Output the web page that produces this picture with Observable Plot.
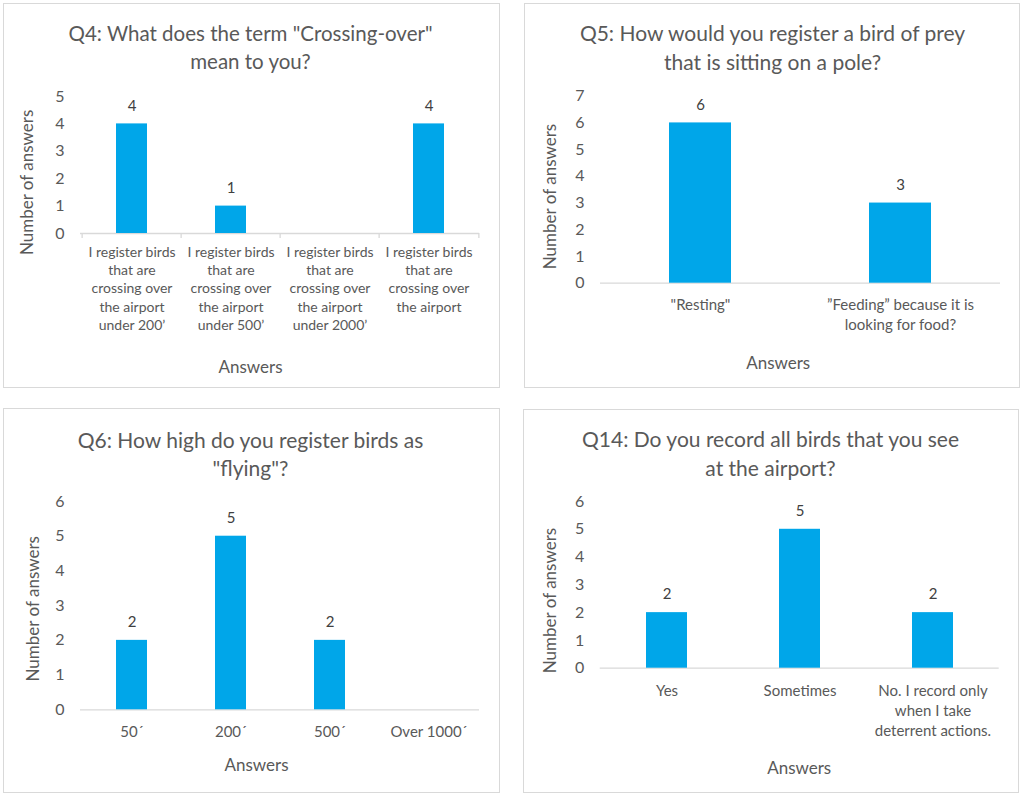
<!DOCTYPE html>
<html>
<head>
<meta charset="utf-8">
<script src="https://cdn.jsdelivr.net/npm/d3@7"></script>
<script src="https://cdn.jsdelivr.net/npm/@observablehq/plot@0.6"></script>
<style>
  html, body { margin: 0; padding: 0; background: #fff; }
  body { width: 1024px; height: 798px; position: relative; overflow: hidden; font-family: Lato, "Open Sans", sans-serif; }
  .panel { position: absolute; border: 1px solid #d9d9d9; background: #fff; }
  .panel svg { display: block; overflow: visible; }
</style>
</head>
<body>
<div id="q4" class="panel"></div>
<div id="q5" class="panel"></div>
<div id="q6" class="panel"></div>
<div id="q14" class="panel"></div>
<script>
// ---------- data ----------
const q4Title = "Q4: What does the term \"Crossing-over\"\nmean to you?";
const q4Categories = [
  "I register birds that are crossing over the airport under 200’",
  "I register birds that are crossing over the airport under 500’",
  "I register birds that are crossing over the airport under 2000’",
  "I register birds that are crossing over the airport"
];
const q4TickLabels = [
  "I register birds\nthat are\ncrossing over\nthe airport\nunder 200’",
  "I register birds\nthat are\ncrossing over\nthe airport\nunder 500’",
  "I register birds\nthat are\ncrossing over\nthe airport\nunder 2000’",
  "I register birds\nthat are\ncrossing over\nthe airport"
];
const q4Values = [4, 1, 0, 4];
const q4YTicks = [0, 1, 2, 3, 4, 5];

const q5Title = "Q5: How would you register a bird of prey\nthat is sitting on a pole?";
const q5Categories = ["\"Resting\"", "”Feeding” because it is looking for food?"];
const q5TickLabels = ["\"Resting\"", "”Feeding” because it is\nlooking for food?"];
const q5Values = [6, 3];
const q5YTicks = [0, 1, 2, 3, 4, 5, 6, 7];

const q6Title = "Q6: How high do you register birds as\n\"flying\"?";
const q6Categories = ["50´", "200´", "500´", "Over 1000´"];
const q6TickLabels = ["50´", "200´", "500´", "Over 1000´"];
const q6Values = [2, 5, 2, 0];
const q6YTicks = [0, 1, 2, 3, 4, 5, 6];

const q14Title = "Q14: Do you record all birds that you see\nat the airport?";
const q14Categories = ["Yes", "Sometimes", "No. I record only when I take deterrent actions."];
const q14TickLabels = ["Yes", "Sometimes", "No. I record only\nwhen I take\ndeterrent actions."];
const q14Values = [2, 5, 2];
const q14YTicks = [0, 1, 2, 3, 4, 5, 6];

const yLabel = "Number of answers";
const xLabel = "Answers";

// ---------- styling ----------
const BAR = "#00a6e9";
const TEXT = "#595959";
const DARK = "#404040";
const AXIS = "#d9d9d9";
const FONT = "Lato, 'Open Sans', sans-serif";

function panel(id, cfg) {
  const el = document.getElementById(id);
  Object.assign(el.style, {left: cfg.left + "px", top: cfg.top + "px", width: cfg.w + "px", height: cfg.h + "px"});
  const data = cfg.categories.map((c, i) => ({cat: c, v: cfg.values[i], label: cfg.tickLabels[i]}));
  const labelOf = new Map(data.map(d => [d.cat, d.label]));
  const ymax = cfg.yTicks[cfg.yTicks.length - 1];
  const plotW = cfg.w - cfg.ml - cfg.mr;
  const step = plotW / cfg.categories.length;
  const marks = [
    Plot.ruleY([0], {stroke: AXIS, strokeWidth: 1.3}),
    Plot.barY(data, {x: "cat", y: "v", fill: BAR}),
    Plot.text(data.filter(d => d.v > 0), {x: "cat", y: "v", text: d => String(d.v), dy: -18, fontSize: 15, fill: DARK, lineAnchor: "middle"}),
    Plot.axisY({ticks: cfg.yTicks, tickSize: 0, tickPadding: 16, fontSize: 16, color: TEXT, label: null, tickFormat: d => String(d)}),
    Plot.axisX({tickSize: 0, tickPadding: cfg.xPad, fontSize: cfg.xFont, lineHeight: cfg.xLine, color: TEXT, label: null, tickFormat: d => labelOf.get(d)}),
    Plot.text([cfg.title], {frameAnchor: "top", dx: cfg.tdx, dy: cfg.tdy, fontSize: cfg.tFont, lineHeight: 1.36, fill: TEXT, lineAnchor: "middle", textAnchor: "middle"}),
    Plot.text([yLabel], {frameAnchor: "left", rotate: -90, dx: cfg.ydx, dy: cfg.ydy, fontSize: 17, fill: TEXT, lineAnchor: "middle", textAnchor: "middle"}),
    Plot.text([xLabel], {frameAnchor: "bottom", dx: cfg.adx, dy: cfg.ady, fontSize: 17, fill: TEXT, lineAnchor: "middle", textAnchor: "middle"})
  ];
  if (cfg.boundaryTicks) {
    marks.push(Plot.ruleX(cfg.categories, {x: d => d, y1: 0, y2: 0, insetBottom: -5, dx: -step / 2, stroke: AXIS, strokeWidth: 1.3}));
    marks.push(Plot.ruleX(cfg.categories.slice(-1), {x: d => d, y1: 0, y2: 0, insetBottom: -5, dx: step / 2, stroke: AXIS, strokeWidth: 1.3}));
  }
  const chart = Plot.plot({
    width: cfg.w, height: cfg.h,
    marginLeft: cfg.ml, marginRight: cfg.mr, marginTop: cfg.mt, marginBottom: cfg.mb,
    style: {fontFamily: FONT, background: "transparent", overflow: "visible"},
    x: {domain: cfg.categories, paddingInner: 0.69, paddingOuter: 0.345, label: null},
    y: {domain: [0, ymax], label: null},
    marks
  });
  el.appendChild(chart);
}

panel("q4", {
  left: 3, top: 3, w: 495, h: 383, ml: 76, mr: 20, mt: 92, mb: 154,
  categories: q4Categories, tickLabels: q4TickLabels, values: q4Values, yTicks: q4YTicks, title: q4Title, tFont: 20.5,
  tdx: -29.5, tdy: -50, ydx: -53, ydy: 17.4, adx: -29.5, ady: 134.4,
  xPad: 10, xFont: 14, xLine: 1.31, boundaryTicks: true
});
panel("q5", {
  left: 524, top: 3, w: 494, h: 383, ml: 75, mr: 19, mt: 91.7, mb: 104.3,
  categories: q5Categories, tickLabels: q5TickLabels, values: q5Values, yTicks: q5YTicks, title: q5Title, tFont: 21,
  tdx: -28, tdy: -50, ydx: -50, ydy: 6.8, adx: -22.3, ady: 80.6,
  xPad: 13, xFont: 15, xLine: 1.33, boundaryTicks: false
});
panel("q6", {
  left: 3, top: 408, w: 495, h: 383, ml: 76, mr: 20, mt: 92, mb: 82.7,
  categories: q6Categories, tickLabels: q6TickLabels, values: q6Values, yTicks: q6YTicks, title: q6Title, tFont: 21,
  tdx: -29.5, tdy: -48.8, ydx: -47, ydy: 3.1, adx: -23.5, ady: 55.7,
  xPad: 13, xFont: 15, xLine: 1.33, boundaryTicks: false
});
panel("q14", {
  left: 523, top: 409, w: 494, h: 382, ml: 75.7, mr: 19.3, mt: 91, mb: 124.3,
  categories: q14Categories, tickLabels: q14TickLabels, values: q14Values, yTicks: q14YTicks, title: q14Title, tFont: 21,
  tdx: -29.2, tdy: -49.3, ydx: -49.7, ydy: 15.7, adx: -0.5, ady: 100.6,
  xPad: 13, xFont: 15, xLine: 1.36, boundaryTicks: false
});
</script>
</body>
</html>
